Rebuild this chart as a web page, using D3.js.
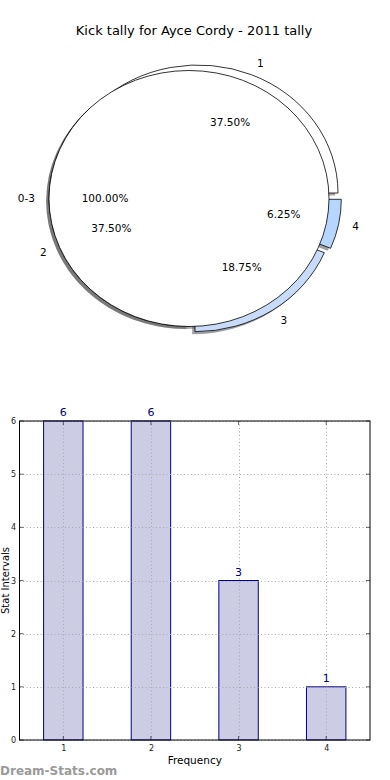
<!DOCTYPE html>
<html>
<head>
<meta charset="utf-8">
<script src="https://cdn.jsdelivr.net/npm/d3@7"></script>
<style>
  html, body { margin: 0; padding: 0; background: #fff; }
  svg { display: block; font-family: "DejaVu Sans", sans-serif; }
</style>
</head>
<body>
<svg id="chart" width="390" height="780"></svg>
<script>
// ---- data ----
const chartTitle = "Kick tally for Ayce Cordy - 2011 tally";
const categories = ["1", "2", "3", "4"];
const counts = [6, 6, 3, 1];
const innerCategories = ["0-3"];
const innerCounts = [16];
const yTickValues = [0, 1, 2, 3, 4, 5, 6];
const xAxisLabel = "Frequency";
const yAxisLabel = "Stat Intervals";
const watermark = "Dream-Stats.com";

// ---- styles ----
const sliceColors = ["#ffffff", "#ffffff", "#c8dcfa", "#b6d6ff"];
const innerColors = ["#ffffff"];
const sliceShift = [[9, -5.5], [0, 0], [6, 5.2], [12.3, 0.8]]; // explode offsets (px)

const svg = d3.select("#chart");

// Title
svg.append("text")
  .attr("x", 194).attr("y", 35)
  .attr("text-anchor", "middle")
  .attr("font-size", 13)
  .attr("fill", "#000")
  .text(chartTitle);

// ---- Pie ----
const cx = 189, cy = 198.5, rx = 140, ry = 128;
const sy = ry / rx;
const shadowDx = -0.02 * rx, shadowDy = 0.02 * ry;

const pie = d3.pie().sort(null).startAngle(Math.PI / 2).endAngle(Math.PI / 2 - 2 * Math.PI);
const outerArcs = pie(counts);
const innerArcs = pie(innerCounts);
const arc = d3.arc().innerRadius(0).outerRadius(rx);

function shadeColor(c) {
  const col = d3.rgb(c);
  return d3.rgb(col.r * 0.3, col.g * 0.3, col.b * 0.3).toString();
}

const pieG = svg.append("g");
// shadows (all behind wedges)
outerArcs.forEach((a, i) => {
  pieG.append("path")
    .attr("transform", `translate(${cx + sliceShift[i][0] + shadowDx},${cy + sliceShift[i][1] + shadowDy}) scale(1,${sy})`)
    .attr("d", arc(a))
    .attr("fill", shadeColor(sliceColors[i]))
    .attr("fill-opacity", 0.5);
});
innerArcs.forEach((a, i) => {
  pieG.append("path")
    .attr("transform", `translate(${cx + shadowDx},${cy + shadowDy}) scale(1,${sy})`)
    .attr("d", arc(a))
    .attr("fill", shadeColor(innerColors[i]))
    .attr("fill-opacity", 0.5);
});
// outer wedges
outerArcs.forEach((a, i) => {
  pieG.append("path")
    .attr("transform", `translate(${cx + sliceShift[i][0]},${cy + sliceShift[i][1]}) scale(1,${sy})`)
    .attr("d", arc(a))
    .attr("fill", sliceColors[i])
    .attr("stroke", "#000")
    .attr("stroke-width", 0.8)
    .attr("vector-effect", "non-scaling-stroke");
});
// inner wedge
innerArcs.forEach((a, i) => {
  pieG.append("path")
    .attr("transform", `translate(${cx},${cy}) scale(1,${sy})`)
    .attr("d", arc(a))
    .attr("fill", innerColors[i])
    .attr("stroke", "#000")
    .attr("stroke-width", 0.8)
    .attr("vector-effect", "non-scaling-stroke");
});

const total = d3.sum(counts);
const pct = v => d3.format(".2f")(v / total * 100) + "%";

function midTheta(a) { // convert d3 angle to math angle (ccw from +x)
  const m = (a.startAngle + a.endAngle) / 2;
  return Math.PI / 2 - m;
}
function placeLabels(arcs, names, shifts) {
  arcs.forEach((a, i) => {
    const t = midTheta(a);
    const ox = cx + (shifts ? shifts[i][0] : 0);
    const oy = cy + (shifts ? shifts[i][1] : 0);
    const c = Math.cos(t), s = Math.sin(t);
    svg.append("text")
      .attr("x", ox + 1.1 * rx * c)
      .attr("y", oy - 1.1 * ry * s)
      .attr("dy", "0.35em")
      .attr("text-anchor", c < -1e-9 ? "end" : "start")
      .attr("font-size", 10.5)
      .text(names[i]);
    svg.append("text")
      .attr("x", ox + 0.6 * rx * c)
      .attr("y", oy - 0.6 * ry * s)
      .attr("dy", "0.35em")
      .attr("text-anchor", "middle")
      .attr("font-size", 10.5)
      .text(pct(a.value));
  });
}
placeLabels(outerArcs, categories, sliceShift);
placeLabels(innerArcs, innerCategories, null);

// ---- Bar chart ----
const x = d3.scaleLinear().domain([0.5, 4.5]).range([19.5, 370]);
const y = d3.scaleLinear().domain([0, 6]).range([740, 421]);
const barW = 0.45;
const barG = svg.append("g");

barG.selectAll("rect.bar")
  .data(counts)
  .join("rect")
  .attr("class", "bar")
  .attr("x", (d, i) => x(+categories[i] - barW / 2))
  .attr("width", x(barW) - x(0))
  .attr("y", d => y(d))
  .attr("height", d => y(0) - y(d))
  .attr("fill", "#ccccE4")
  .attr("stroke", "#000088")
  .attr("stroke-width", 1);

// grid (dotted) over bars
const gridG = svg.append("g")
  .attr("stroke", "#a8a8a8")
  .attr("stroke-width", 1)
  .attr("stroke-dasharray", "1,2.5");
yTickValues.forEach(v => {
  gridG.append("line")
    .attr("x1", x(0.5)).attr("x2", x(4.5))
    .attr("y1", Math.round(y(v)) + 0.5).attr("y2", Math.round(y(v)) + 0.5);
});
categories.forEach(c => {
  gridG.append("line")
    .attr("x1", Math.round(x(+c)) + 0.5).attr("x2", Math.round(x(+c)) + 0.5)
    .attr("y1", y(6)).attr("y2", y(0));
});

// axes via d3 axis
const yAxis = d3.axisLeft(y).tickValues(yTickValues).tickSize(0).tickPadding(3.5).tickFormat(d3.format("d"));
const yAxG = svg.append("g").attr("transform", `translate(${x(0.5)},0)`).call(yAxis);
yAxG.select(".domain").remove();
yAxG.selectAll("text").attr("font-size", 8).attr("font-family", "DejaVu Sans").attr("fill", "#222");

const xAxis = d3.axisBottom(x).tickValues(categories.map(Number)).tickSize(0).tickPadding(5).tickFormat(d3.format("d"));
const xAxG = svg.append("g").attr("transform", `translate(0,${y(0)})`).call(xAxis);
xAxG.select(".domain").remove();
xAxG.selectAll("text").attr("font-size", 8).attr("font-family", "DejaVu Sans").attr("fill", "#222");

// inside tick marks
const tickG = svg.append("g").attr("stroke", "#000").attr("stroke-width", 0.6);
yTickValues.forEach(v => {
  tickG.append("line").attr("x1", x(0.5)).attr("x2", x(0.5) + 4).attr("y1", y(v)).attr("y2", y(v));
  tickG.append("line").attr("x1", x(4.5)).attr("x2", x(4.5) - 4).attr("y1", y(v)).attr("y2", y(v));
});
categories.forEach(c => {
  tickG.append("line").attr("x1", x(+c)).attr("x2", x(+c)).attr("y1", y(0)).attr("y2", y(0) - 4);
  tickG.append("line").attr("x1", x(+c)).attr("x2", x(+c)).attr("y1", y(6)).attr("y2", y(6) + 4);
});

// frame
svg.append("rect")
  .attr("x", x(0.5)).attr("y", y(6))
  .attr("width", x(4.5) - x(0.5)).attr("height", y(0) - y(6))
  .attr("fill", "none").attr("stroke", "#000").attr("stroke-width", 1);

// value labels
svg.selectAll("text.val")
  .data(counts)
  .join("text")
  .attr("class", "val")
  .attr("x", (d, i) => x(+categories[i]))
  .attr("y", d => y(d) - 5)
  .attr("text-anchor", "middle")
  .attr("font-size", 11)
  .attr("fill", "#000080")
  .text(d => d);

// axis labels
svg.append("text")
  .attr("x", (x(0.5) + x(4.5)) / 2).attr("y", 764)
  .attr("text-anchor", "middle")
  .attr("font-size", 10.5)
  .text(xAxisLabel);
svg.append("text")
  .attr("transform", `translate(8.5,${(y(0) + y(6)) / 2}) rotate(-90)`)
  .attr("text-anchor", "middle")
  .attr("font-size", 10)
  .text(yAxisLabel);

// watermark
svg.append("text")
  .attr("x", 0).attr("y", 775)
  .attr("font-size", 12)
  .attr("font-weight", "bold")
  .attr("fill", "#9a9a9a")
  .text(watermark);
</script>
</body>
</html>
